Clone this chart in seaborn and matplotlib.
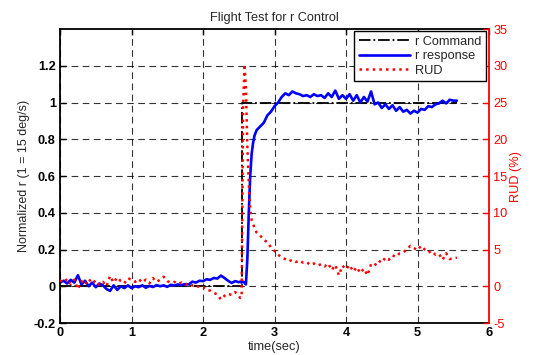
import matplotlib
matplotlib.use("Agg")
import matplotlib.pyplot as plt
import seaborn as sns
import pandas as pd
from matplotlib.lines import Line2D

sns.set_style("white")
plt.rcParams['font.family'] = ['Liberation Sans', 'DejaVu Sans']

# ---- data ----
time_s = [0.00, 0.05, 0.10, 0.15, 0.20, 0.25, 0.30, 0.35, 0.40, 0.45,
          0.50, 0.55, 0.60, 0.65, 0.70, 0.75, 0.80, 0.85, 0.90, 0.95,
          1.00, 1.05, 1.10, 1.15, 1.20, 1.25, 1.30, 1.35, 1.40, 1.45,
          1.50, 1.55, 1.60, 1.65, 1.70, 1.75, 1.80, 1.85, 1.90, 1.95,
          2.00, 2.05, 2.10, 2.15, 2.20, 2.25, 2.30, 2.35, 2.40, 2.45,
          2.50, 2.52, 2.54, 2.56, 2.58, 2.60, 2.62, 2.64, 2.66, 2.68,
          2.70, 2.72, 2.75, 2.80, 2.85, 2.90, 2.95, 3.00, 3.05, 3.10,
          3.15, 3.20, 3.25, 3.30, 3.35, 3.40, 3.45, 3.50, 3.55, 3.60,
          3.65, 3.70, 3.75, 3.80, 3.85, 3.90, 3.95, 4.00, 4.05, 4.10,
          4.15, 4.20, 4.25, 4.30, 4.35, 4.40, 4.45, 4.50, 4.55, 4.60,
          4.65, 4.70, 4.75, 4.80, 4.85, 4.90, 4.95, 5.00, 5.05, 5.10,
          5.15, 5.20, 5.25, 5.30, 5.35, 5.40, 5.45, 5.50, 5.55]

r_response = [0.020, 0.030, 0.015, 0.035, 0.020, 0.060, 0.010, 0.030, 0.000, 0.020,
              -0.005, 0.015, 0.005, -0.015, -0.025, 0.005, -0.020, 0.000, -0.010, 0.005,
              -0.010, 0.000, -0.005, 0.005, -0.008, 0.002, -0.004, 0.006, 0.000, 0.005,
              -0.003, 0.008, 0.004, 0.010, 0.006, 0.012, 0.010, 0.025, 0.020, 0.030,
              0.028, 0.038, 0.035, 0.045, 0.042, 0.058, 0.045, 0.030, 0.018, 0.028,
              0.022, 0.025, 0.020, 0.025, 0.020, 0.010, 0.150, 0.400, 0.600, 0.720,
              0.780, 0.820, 0.850, 0.870, 0.890, 0.930, 0.950, 0.980, 1.000, 1.030,
              1.050, 1.040, 1.060, 1.050, 1.045, 1.035, 1.040, 1.030, 1.045, 1.035,
              1.040, 1.025, 1.050, 1.030, 1.065, 1.020, 1.040, 1.020, 1.045, 1.010,
              1.040, 1.000, 1.030, 1.005, 1.060, 0.990, 1.000, 0.970, 0.990, 0.965,
              0.985, 0.955, 0.975, 0.950, 0.960, 0.940, 0.955, 0.945, 0.965, 0.960,
              0.980, 0.975, 0.990, 0.995, 1.010, 0.995, 1.015, 1.010, 1.010]

rud_pct = [0.8, 0.5, 1.0, 0.3, 0.9, -0.4, 0.7, 0.2, 1.0, 0.4,
           0.8, 0.2, 0.6, 0.0, 1.4, 0.5, 1.2, 0.7, 0.4, 1.1,
           0.9, 0.6, 1.0, 0.5, 0.9, 0.4, 1.1, 0.6, 0.9, 1.3,
           0.7, 0.5, 0.6, 0.3, 0.5, 0.2, 0.4, 0.1, 0.2, -0.2,
           -0.1, -0.5, -0.6, -0.9, -1.1, -1.8, -1.3, -1.0, -1.2, -0.8,
           -1.3, -1.6, -1.5, 24.0, 30.2, 27.0, 19.0, 14.0, 10.5, 9.0,
           8.5, 7.9, 7.3, 6.9, 6.3, 6.0, 5.3, 4.8, 4.3, 3.9,
           3.7, 3.4, 3.6, 3.3, 3.5, 3.2, 3.3, 2.9, 3.1, 2.8,
           3.0, 2.7, 3.1, 2.2, 2.9, 1.5, 2.8, 2.3, 2.9, 2.0,
           2.6, 1.8, 2.4, 1.5, 3.0, 2.8, 3.5, 3.2, 3.9, 3.6,
           4.2, 4.0, 4.5, 4.6, 5.0, 5.5, 5.2, 4.9, 5.5, 5.0,
           4.6, 4.8, 4.3, 4.4, 3.6, 4.5, 3.7, 3.8, 3.9]

cmd_time = [0.0, 2.55, 2.55, 5.55]
r_command = [0.0, 0.0, 1.0, 1.0]

x_ticks = [0, 1, 2, 3, 4, 5, 6]
y_ticks = [-0.2, 0, 0.2, 0.4, 0.6, 0.8, 1.0, 1.2]
y_tick_labels = ["-0.2", "0", "0.2", "0.4", "0.6", "0.8", "1", "1.2"]
y2_ticks = [-5, 0, 5, 10, 15, 20, 25, 30, 35]

df = pd.DataFrame({"t": time_s, "r": r_response, "rud": rud_pct})
df_cmd = pd.DataFrame({"t": cmd_time, "cmd": r_command})

# ---- figure ----
fig = plt.figure(figsize=(5.33, 3.55), dpi=100)
ax = fig.add_axes([0.1126, 0.0901, 0.8049, 0.8282])
ax2 = ax.twinx()

sns.lineplot(data=df_cmd, x="t", y="cmd", ax=ax, color="black",
             linestyle="-.", linewidth=1.3, sort=False, estimator=None)
sns.lineplot(data=df, x="t", y="r", ax=ax, color="#0000ff",
             linewidth=1.9, sort=False, estimator=None)
sns.lineplot(data=df, x="t", y="rud", ax=ax2, color="#ff0000",
             linestyle=":", linewidth=1.8, sort=False, estimator=None)

ax.set_xlim(0, 6)
ax.set_ylim(-0.2, 1.4)
ax2.set_ylim(-5, 35)
ax.set_xticks(x_ticks)
ax.set_xticklabels([str(v) for v in x_ticks], fontweight="bold", fontsize=9.2)
ax.set_yticks(y_ticks)
ax.set_yticklabels(y_tick_labels, fontweight="bold", fontsize=9.2)
ax2.set_yticks(y2_ticks)
ax2.set_yticklabels([str(v) for v in y2_ticks], color="red", fontsize=9.2)

ax.grid(True, color="black", linestyle=(0, (6, 4)), linewidth=0.8, alpha=0.8)
ax.tick_params(axis="both", direction="in", length=4, width=1, top=True,
               pad=3, colors="black")
ax2.tick_params(axis="y", direction="in", length=4, width=1, colors="red",
                pad=3)

for s in ["left", "bottom", "top"]:
    ax.spines[s].set_color("black")
    ax.spines[s].set_linewidth(1.3)
ax2.spines["right"].set_color("red")
ax2.spines["right"].set_linewidth(1.3)
ax2.spines["left"].set_visible(False)
ax2.spines["top"].set_visible(False)
ax2.spines["bottom"].set_visible(False)
ax.spines["right"].set_visible(False)

ax.set_xlabel("time(sec)", fontsize=9.2, labelpad=1)
ax.set_ylabel("Normalized r (1 = 15 deg/s)", fontsize=9, labelpad=3)
ax2.set_ylabel("RUD (%)", fontsize=9.2, color="red", labelpad=2)
ax.set_title("Flight Test for r Control", fontsize=9.2, pad=6)

handles = [Line2D([], [], color="black", linestyle="-.", linewidth=1.3),
           Line2D([], [], color="#0000ff", linewidth=1.9),
           Line2D([], [], color="#ff0000", linestyle=":", linewidth=1.8)]
labels = ["r Command", "r response", "RUD"]
leg = ax2.legend(handles, labels, loc="upper right",
                 bbox_to_anchor=(0.993, 0.993), borderaxespad=0,
                 fontsize=9.2, handlelength=4.0, frameon=True, fancybox=False,
                 edgecolor="black", framealpha=1, labelspacing=0.2,
                 borderpad=0.35, handletextpad=0.4)
leg.get_frame().set_linewidth(1.0)

fig.savefig("out.png", dpi=100)
